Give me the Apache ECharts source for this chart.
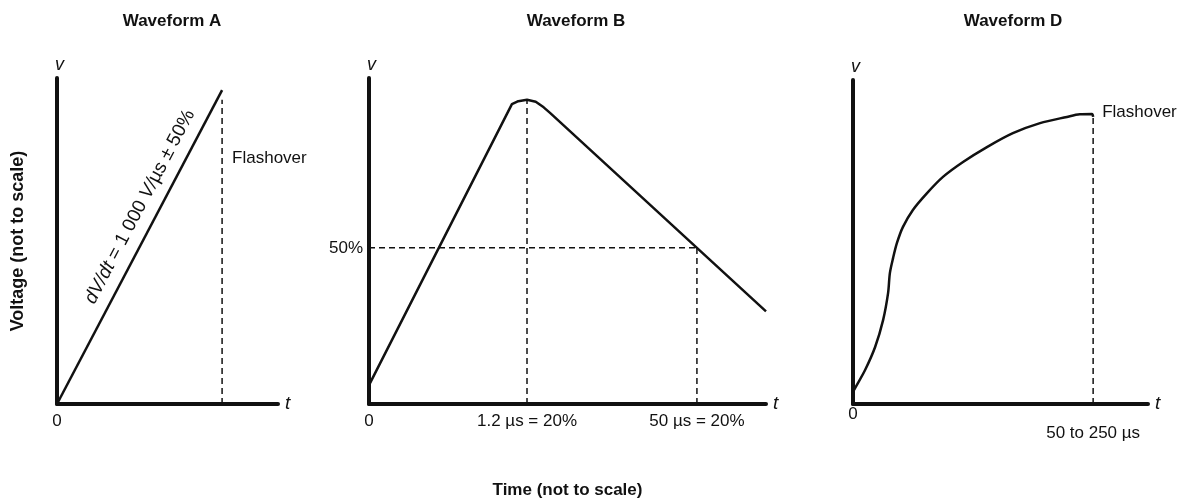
<!DOCTYPE html>
<html>
<head>
<meta charset="utf-8">
<script src="https://cdn.jsdelivr.net/npm/echarts@6/dist/echarts.min.js"></script>
<style>html,body{margin:0;padding:0;background:#fff}#c{width:1198px;height:504px}</style>
</head>
<body>
<div id="c"></div>
<script>
// ---------- data (arbitrary units, not to scale) ----------
const titles = ['Waveform A', 'Waveform B', 'Waveform D'];
// Waveform A: linear ramp up to flashover
const aRamp = [[0, 0], [74.7, 96.3]];
const aFlashT = 74.7;
const aFlashTop = 93.3;
const aFlashLabelV = 75.5;
const aXLabels = {0: '0'};
// Waveform B: impulse
const bWave = [[0, 5.8], [36, 92], [37.6, 92.9], [39.8, 93.3], [42, 92.7], [44, 91.0], [45.6, 89.3], [82.6, 47.9], [100, 28.4]];
const bPeakT = 39.8, bPeakV = 93.3;
const bHalfT = 82.6, bHalfV = 47.9;
const bXLabels = {0: '0', 39.8: '1.2 \u00b5s = 20%', 82.6: '50 \u00b5s = 20%'};
const bYLabels = {47.9: '50%'};
// Waveform D: rising curve to flashover
const dWave = [[0, 3.7], [0.7, 4.9], [4.1, 10.5], [7.5, 17.6], [10.2, 25.9], [11.9, 34.3], [12.5, 40.4], [13.6, 45.1], [14.9, 49.7], [16.9, 54.6], [20.3, 59.9], [25.1, 65.1], [30.5, 70.1], [37.3, 74.7], [45.4, 79.3], [54.2, 83.6], [63.4, 86.7], [72.5, 88.6], [76.9, 89.4], [81.0, 89.5], [81.4, 88.6]];
const dFlashT = 81.4, dFlashTop = 88.6;
const dXLabels = {0: '0', 81.4: '\n50 to 250 \u00b5s'};
const slopeText = '{i|dV/dt} = 1 000 {i|V/}\u00b5s \u00b1 50%';
const slopeAnchor = [[37.5, 60.5]];

// ---------- styling ----------
const FN = '"Liberation Sans Narrow", "Liberation Sans", Arial, sans-serif';
const BLACK = '#111';
const axisLine = {show: true, onZero: false, lineStyle: {color: BLACK, width: 4}};
const dash = {color: BLACK, width: 1.5, type: [6, 4]};

function xAx(gi, labels, margin) {
  return {
    type: 'value', gridIndex: gi, min: 0, max: 100,
    axisLine: axisLine, axisTick: {show: false}, splitLine: {show: false},
    axisLabel: {
      show: true, customValues: Object.keys(labels).map(Number), margin: margin,
      formatter: v => labels[v] !== undefined ? labels[v] : '',
      fontFamily: FN, fontSize: 17, color: BLACK, lineHeight: 19
    },
    name: 't', nameLocation: 'end', nameGap: 7,
    nameTextStyle: {fontFamily: FN, fontSize: 19, fontStyle: 'italic', color: BLACK, verticalAlign: 'middle'}
  };
}
function yAx(gi, labels) {
  return {
    type: 'value', gridIndex: gi, min: 0, max: 100,
    axisLine: axisLine, axisTick: {show: false}, splitLine: {show: false},
    axisLabel: labels ? {
      show: true, customValues: Object.keys(labels).map(Number), margin: 6,
      formatter: v => labels[v] !== undefined ? labels[v] : '',
      fontFamily: FN, fontSize: 17, color: BLACK
    } : {show: false},
    name: 'v', nameLocation: 'end', nameGap: 4,
    nameTextStyle: {fontFamily: FN, fontSize: 18, fontStyle: 'italic', color: BLACK, align: 'left', padding: [0, 0, 0, -2]}
  };
}
function lineS(xi, data, style, extra) {
  return Object.assign({
    type: 'line', xAxisIndex: xi, yAxisIndex: xi, data: data, symbol: 'none',
    lineStyle: style, silent: true, animation: false, z: 3
  }, extra || {});
}
function textPoint(xi, pt, label) {
  return {
    type: 'scatter', xAxisIndex: xi, yAxisIndex: xi, data: [pt], symbolSize: 0,
    itemStyle: {opacity: 1}, silent: true, animation: false,
    label: Object.assign({show: true, color: BLACK, opacity: 1, fontFamily: FN, fontSize: 17}, label)
  };
}

const solid = {color: BLACK, width: 2.5};
const grids = [
  {left: 57, top: 78, width: 221, height: 326},
  {left: 369, top: 78, width: 397, height: 326},
  {left: 853, top: 80, width: 295, height: 324}
].map(g => Object.assign({outerBoundsMode: 'none', containLabel: false}, g));

const option = {
  backgroundColor: '#fff',
  animation: false,
  title: [
    {text: titles[0], left: 167, top: 8, textAlign: 'center'},
    {text: titles[1], left: 571, top: 8, textAlign: 'center'},
    {text: titles[2], left: 1008, top: 8, textAlign: 'center'}
  ].map(t => Object.assign({textStyle: {fontFamily: FN, fontSize: 17, fontWeight: 'bold', color: BLACK}}, t)),
  grid: grids.concat([{left: 57, top: 78, width: 221, height: 326, outerBoundsMode: 'none'}, {left: 369, top: 78, width: 397, height: 326, outerBoundsMode: 'none'}]),
  xAxis: [
    xAx(0, aXLabels, 8), xAx(1, bXLabels, 8), xAx(2, dXLabels, 1),
    {type: 'value', gridIndex: 4, min: 0, max: 100, axisLine: {show: false}, axisTick: {show: false}, axisLabel: {show: false}, splitLine: {show: false},
     name: 'Time (not to scale)', nameLocation: 'middle', nameGap: 78,
     nameTextStyle: {fontFamily: FN, fontSize: 17, fontWeight: 'bold', color: BLACK}},
    {type: 'value', gridIndex: 3, min: 0, max: 100, show: false}
  ],
  yAxis: [
    yAx(0), yAx(1, bYLabels), yAx(2),
    {type: 'value', gridIndex: 3, min: 0, max: 100, axisLine: {show: false}, axisTick: {show: false}, axisLabel: {show: false}, splitLine: {show: false},
     name: 'Voltage (not to scale)', nameLocation: 'middle', nameGap: 30,
     nameTextStyle: {fontFamily: FN, fontSize: 18, fontWeight: 'bold', color: BLACK}},
    {type: 'value', gridIndex: 4, min: 0, max: 100, show: false}
  ],
  series: [
    // A
    lineS(0, aRamp, solid),
    lineS(0, [[aFlashT, 0], [aFlashT, aFlashTop]], dash),
    textPoint(0, [aFlashT, aFlashLabelV], {formatter: 'Flashover', position: 'right', distance: 10}),
    textPoint(0, slopeAnchor[0], {formatter: slopeText, position: 'inside', rotate: 62.3, align: 'center', verticalAlign: 'middle', fontSize: 19,
      rich: {i: {fontStyle: 'italic', fontFamily: FN, fontSize: 19, color: BLACK}}}),
    // B
    lineS(1, bWave, solid),
    lineS(1, [[bPeakT, 0], [bPeakT, bPeakV]], dash),
    lineS(1, [[bHalfT, 0], [bHalfT, bHalfV]], dash),
    lineS(1, [[0, bHalfV], [bHalfT, bHalfV]], dash),
    // D
    lineS(2, dWave, solid, {smooth: 0.3}),
    lineS(2, [[dFlashT, 0], [dFlashT, dFlashTop]], dash),
    textPoint(2, [dFlashT, dFlashTop + 1.5], {formatter: 'Flashover', position: 'right', distance: 9})
  ]
};

const chart = echarts.init(document.getElementById('c'), null, {renderer: 'canvas'});
chart.setOption(option);
</script>
</body>
</html>
